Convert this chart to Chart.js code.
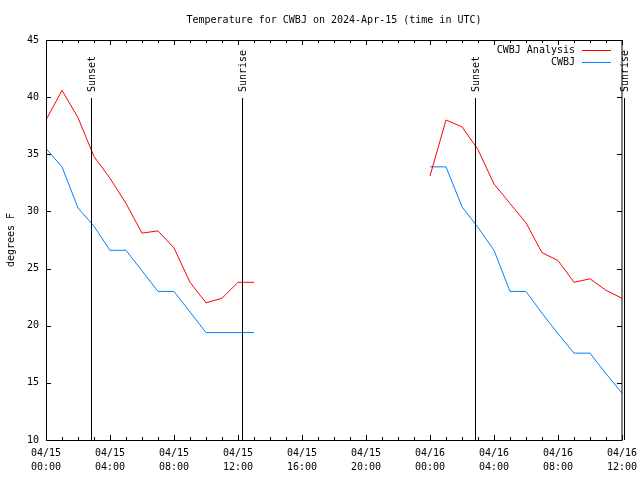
<!DOCTYPE html>
<html>
<head>
<meta charset="utf-8">
<script src="https://cdn.jsdelivr.net/npm/chart.js@4/dist/chart.umd.min.js"></script>
<style>
  html, body { margin: 0; padding: 0; background: #ffffff; }
  #c { display: block; }
</style>
</head>
<body>
<canvas id="c" width="640" height="480"></canvas>
<script>
// ---- data ----
const hourLabels = [
  "04/15 00:00","04/15 01:00","04/15 02:00","04/15 03:00","04/15 04:00","04/15 05:00",
  "04/15 06:00","04/15 07:00","04/15 08:00","04/15 09:00","04/15 10:00","04/15 11:00",
  "04/15 12:00","04/15 13:00","04/15 14:00","04/15 15:00","04/15 16:00","04/15 17:00",
  "04/15 18:00","04/15 19:00","04/15 20:00","04/15 21:00","04/15 22:00","04/15 23:00",
  "04/16 00:00","04/16 01:00","04/16 02:00","04/16 03:00","04/16 04:00","04/16 05:00",
  "04/16 06:00","04/16 07:00","04/16 08:00","04/16 09:00","04/16 10:00","04/16 11:00",
  "04/16 12:00"
];
const analysis = [
  38.0, 40.6, 38.2, 34.8, 32.9, 30.7, 28.1, 28.3, 26.8, 23.8, 22.0, 22.4, 23.8, 23.8,
  null, null, null, null, null, null, null, null, null, null,
  33.1, 38.0, 37.4, 35.4, 32.4, 30.7, 29.0, 26.4, 25.7, 23.8, 24.1, 23.1, 22.4
];
const observed = [
  35.5, 33.9, 30.3, 28.7, 26.6, 26.6, 24.8, 23.0, 23.0, 21.2, 19.4, 19.4, 19.4, 19.4,
  null, null, null, null, null, null, null, null, null, null,
  33.9, 33.9, 30.4, 28.6, 26.6, 23.0, 23.0, 21.1, 19.3, 17.6, 17.6, 15.8, 14.1
];
const seriesNames = ["CWBJ Analysis", "CWBJ"];
const seriesColors = ["#ff0000", "#0080ff"];
const sunEventNames = ["Sunset", "Sunrise", "Sunset", "Sunrise"];
const sunEventHours = [2.84, 12.25, 26.84, 36.12];
const yTickValues = [10, 15, 20, 25, 30, 35, 40, 45];
const titleText = "Temperature for CWBJ on 2024-Apr-15 (time in UTC)";
const yTitle = "degrees F";

const FONT = "'DejaVu Sans Mono', 'Liberation Mono', monospace";

const framePlugin = {
  id: 'frame',
  afterLayout(chart) {
    const a = chart.chartArea;
    if (chart.titleBlock) {
      chart.titleBlock.left = a.left;
      chart.titleBlock.right = a.right;
      chart.titleBlock.width = a.right - a.left;
    }
  },
  afterDatasetsDraw(chart) {
    const ctx = chart.ctx;
    const a = chart.chartArea;
    const xs = chart.scales.x, ys = chart.scales.y;
    ctx.save();
    ctx.strokeStyle = '#000';
    ctx.lineWidth = 1;
    // box
    ctx.strokeRect(Math.round(a.left) + 0.5, Math.round(a.top) + 0.5,
                   Math.round(a.right - a.left) - 0.5, Math.round(a.bottom - a.top));
    ctx.beginPath();
    // y ticks left & right
    yTickValues.forEach(v => {
      const y = Math.round(ys.getPixelForValue(v)) + 0.5;
      ctx.moveTo(a.left, y); ctx.lineTo(a.left + 5, y);
      ctx.moveTo(a.right, y); ctx.lineTo(a.right - 5, y);
    });
    // x ticks bottom & top, hourly minor, 4-hour major
    for (let i = 0; i < hourLabels.length; i++) {
      const x = Math.round(xs.getPixelForValue(i)) + 0.5;
      const len = (i % 4 === 0) ? 5 : 3;
      ctx.moveTo(x, a.bottom); ctx.lineTo(x, a.bottom - len);
      ctx.moveTo(x, a.top); ctx.lineTo(x, a.top + len);
    }
    ctx.stroke();
    // sunrise / sunset lines
    ctx.font = '10px ' + FONT;
    ctx.fillStyle = '#000';
    sunEventHours.forEach((h, k) => {
      const x = Math.round(xs.getPixelForValue(h)) + 0.5;
      ctx.beginPath();
      ctx.moveTo(x, a.top + 58);
      ctx.lineTo(x, a.bottom);
      ctx.stroke();
      ctx.save();
      ctx.translate(x + 1, a.top + 52);
      ctx.rotate(-Math.PI / 2);
      ctx.textAlign = 'left';
      ctx.textBaseline = 'middle';
      ctx.fillText(sunEventNames[k], 0, 0);
      ctx.restore();
    });
    // legend
    ctx.textAlign = 'right';
    ctx.textBaseline = 'middle';
    chart.data.datasets.forEach((ds, k) => {
      const y = a.top + 10 + k * 12;
      ctx.fillStyle = '#000';
      ctx.fillText(ds.label, a.right - 47, y);
      ctx.strokeStyle = ds.borderColor;
      ctx.beginPath();
      ctx.moveTo(a.right - 40, Math.round(y) + 0.5);
      ctx.lineTo(a.right - 11, Math.round(y) + 0.5);
      ctx.stroke();
    });
    ctx.restore();
  }
};

new Chart(document.getElementById('c').getContext('2d'), {
  type: 'line',
  data: {
    labels: hourLabels,
    datasets: [
      { label: seriesNames[0], data: analysis, borderColor: seriesColors[0], backgroundColor: seriesColors[0],
        borderWidth: 1, pointRadius: 0, tension: 0, spanGaps: false, fill: false },
      { label: seriesNames[1], data: observed, borderColor: seriesColors[1], backgroundColor: seriesColors[1],
        borderWidth: 1, pointRadius: 0, tension: 0, spanGaps: false, fill: false }
    ]
  },
  options: {
    responsive: false,
    animation: false,
    devicePixelRatio: 1,
    layout: { padding: { left: 0, right: 18, top: 0, bottom: 0 } },
    plugins: {
      legend: { display: false },
      tooltip: { enabled: false },
      title: {
        display: true, text: titleText, color: '#000',
        font: { family: FONT, size: 10, weight: 'normal', lineHeight: 1.2 },
        padding: { top: 14, bottom: 14 }
      }
    },
    scales: {
      x: {
        type: 'category',
        offset: false,
        grid: { display: false, drawTicks: false },
        border: { display: false },
        ticks: {
          autoSkip: false, maxRotation: 0, minRotation: 0, padding: 6, color: '#000',
          font: { family: FONT, size: 10, lineHeight: 1.4 },
          callback: function (v, i) { return i % 4 === 0 ? hourLabels[i].split(' ') : ''; }
        },
        afterFit: s => { s.height = 40; s.paddingLeft = 0; s.paddingRight = 0; }
      },
      y: {
        min: 10, max: 45,
        grid: { display: false, drawTicks: false },
        border: { display: false },
        ticks: { stepSize: 5, padding: 7, color: '#000', font: { family: FONT, size: 10 } },
        title: { display: true, text: yTitle, color: '#000', padding: { top: 5, bottom: 0 },
                 font: { family: FONT, size: 10, lineHeight: 1.2 } },
        afterFit: s => { s.width = 46; s.paddingTop = 0; s.paddingBottom = 0; }
      }
    }
  },
  plugins: [framePlugin]
});
</script>
</body>
</html>
